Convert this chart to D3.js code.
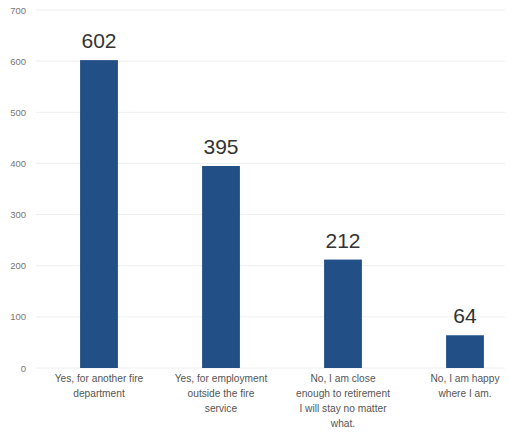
<!DOCTYPE html>
<html><head><meta charset="utf-8">
<script src="https://cdn.jsdelivr.net/npm/d3@7"></script>
<style>body{margin:0;background:#fff;}svg{display:block;}</style>
</head><body>
<svg id="chart" width="510" height="445"></svg>
<script>
const categories = [
  ["Yes, for another fire", "department"],
  ["Yes, for employment", "outside the fire", "service"],
  ["No, I am close", "enough to retirement", "I will stay no matter", "what."],
  ["No, I am happy", "where I am."]
];
const values = [602, 395, 212, 64];
const yTicks = [0, 100, 200, 300, 400, 500, 600, 700];

const svg = d3.select("#chart");
const x = d3.scaleBand().domain(d3.range(values.length)).range([38, 526]).paddingInner(0.69).paddingOuter(0.345);
const y = d3.scaleLinear().domain([0, 700]).range([368, 10]);

// gridlines
svg.append("g").selectAll("line").data(yTicks).join("line")
  .attr("x1", 36).attr("x2", 505)
  .attr("y1", d => y(d)).attr("y2", d => y(d))
  .attr("stroke", "#eeeeee").attr("stroke-width", 1);

// y axis labels
const yAxis = d3.axisLeft(y).tickValues(yTicks).tickSize(0).tickPadding(0);
const ga = svg.append("g").attr("transform", "translate(26,0)").call(yAxis);
ga.select(".domain").remove();
ga.selectAll("text").attr("font-family", "Liberation Sans, Arial, sans-serif")
  .attr("font-size", 9.5).attr("fill", "#777");

// bars
svg.append("g").selectAll("rect").data(values).join("rect")
  .attr("x", (d, i) => x(i)).attr("width", x.bandwidth())
  .attr("y", d => y(d)).attr("height", d => y(0) - y(d))
  .attr("fill", "#224f86");

// value labels
svg.append("g").selectAll("text").data(values).join("text")
  .attr("x", (d, i) => x(i) + x.bandwidth() / 2)
  .attr("y", d => y(d) - 12)
  .attr("text-anchor", "middle")
  .attr("font-family", "Liberation Sans, Arial, sans-serif")
  .attr("font-size", 21).attr("fill", "#333")
  .text(d => d);

// category labels
const cg = svg.append("g").selectAll("text").data(categories).join("text")
  .attr("x", (d, i) => x(i) + x.bandwidth() / 2)
  .attr("y", 382)
  .attr("text-anchor", "middle")
  .attr("font-family", "Liberation Sans, Arial, sans-serif")
  .attr("font-size", 10.2).attr("fill", "#555");
cg.selectAll("tspan").data(d => d).join("tspan")
  .attr("x", function() { return d3.select(this.parentNode).attr("x"); })
  .attr("dy", (d, j) => j === 0 ? 0 : 15)
  .text(d => d);
</script>
</body></html>
